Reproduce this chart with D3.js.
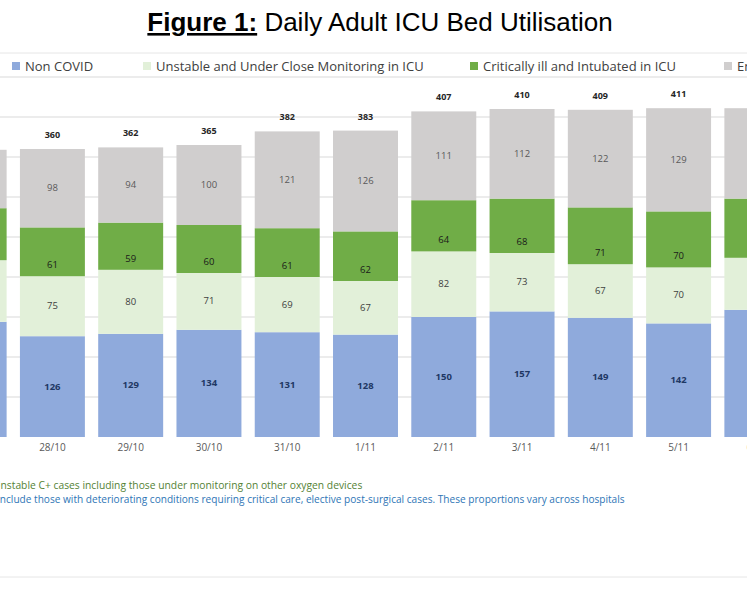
<!DOCTYPE html>
<html>
<head>
<meta charset="utf-8">
<script src="https://cdn.jsdelivr.net/npm/d3@7"></script>
<style>
  body { margin: 0; background: #fff; }
  text { font-family: "Open Sans", sans-serif; }
</style>
</head>
<body>
<svg id="chart" width="747" height="598"></svg>
<script>
// dates (first and last bars are cut off by the frame)
const dates = ['27/10', '28/10', '29/10', '30/10', '31/10', '1/11', '2/11', '3/11', '4/11', '5/11', '6/11'];
const nonCovid   = [144, 126, 129, 134, 131, 128, 150, 157, 149, 142, 159];
const unstable   = [77, 75, 80, 71, 69, 67, 82, 73, 67, 70, 65];
const critical   = [65, 61, 59, 60, 61, 62, 64, 68, 71, 70, 74];
const emptyBeds  = [73, 98, 94, 100, 121, 126, 111, 112, 122, 129, 113];
const seriesNames = ['Non COVID', 'Unstable and Under Close Monitoring in ICU', 'Critically ill and Intubated in ICU', 'Empty Beds'];
const seriesColors = ['#8faadc', '#e2f0d9', '#70ad47', '#d0cece'];
const labelColors = ['#1f3864', '#404040', '#1a1a1a', '#595959'];
const yTicks = [0, 50, 100, 150, 200, 250, 300, 350, 400, 450];

const svg = d3.select('#chart');
const W = 747;

const rows = dates.map((d, i) => ({
  date: d, 0: nonCovid[i], 1: unstable[i], 2: critical[i], 3: emptyBeds[i],
  total: nonCovid[i] + unstable[i] + critical[i] + emptyBeds[i]
}));
const stack = d3.stack().keys([0, 1, 2, 3])(rows);

const xScale = d3.scaleBand().domain(dates).range([-65, 796]).paddingInner(0.17).paddingOuter(0.085);
const yScale = d3.scaleLinear().domain([0, 450]).range([437, 77]);

// title
const title = svg.append('text')
  .attr('x', 380).attr('y', 31)
  .attr('text-anchor', 'middle')
  .style('font-family', '"Liberation Sans", Arial, sans-serif')
  .style('font-size', '26px');
title.append('tspan').attr('font-weight', 'bold').attr('text-decoration', 'underline').text('Figure 1:');
title.append('tspan').text(' Daily Adult ICU Bed Utilisation');

// frame lines
svg.append('line').attr('x1', 0).attr('x2', W).attr('y1', 53).attr('y2', 53).attr('stroke', '#e6e6e6');
svg.append('line').attr('x1', 0).attr('x2', W).attr('y1', 577).attr('y2', 577).attr('stroke', '#e6e6e6');

// legend
const legendX = [12, 143, 470, 724];
const lg = svg.append('g').selectAll('g').data(seriesNames).join('g')
  .attr('transform', (d, i) => `translate(${legendX[i]},67)`);
lg.append('rect').attr('x', 0).attr('y', -5).attr('width', 8).attr('height', 8)
  .attr('fill', (d, i) => seriesColors[i]);
lg.append('text').attr('x', 13).attr('y', 4).style('font-size', '13px').attr('fill', '#404040').text(d => d);

// gridlines
svg.append('g').selectAll('line').data(yTicks.slice(1)).join('line')
  .attr('x1', 0).attr('x2', W)
  .attr('y1', d => yScale(d)).attr('y2', d => yScale(d))
  .attr('stroke', '#d9d9d9');

// bars
const layers = svg.append('g').selectAll('g').data(stack).join('g')
  .attr('fill', (d, i) => seriesColors[i]);
layers.selectAll('rect').data(d => d).join('rect')
  .attr('x', d => xScale(d.data.date))
  .attr('width', xScale.bandwidth())
  .attr('y', d => yScale(d[1]))
  .attr('height', d => yScale(d[0]) - yScale(d[1]));

// segment labels
stack.forEach((layer, i) => {
  svg.append('g').selectAll('text').data(layer).join('text')
    .attr('x', d => xScale(d.data.date) + xScale.bandwidth() / 2)
    .attr('y', d => i === 2 ? yScale(d[0]) - 8 : (yScale(d[0]) + yScale(d[1])) / 2 + 3)
    .attr('text-anchor', 'middle')
    .attr('fill', labelColors[i])
    .style('font-size', '9.5px')
    .style('font-weight', i === 0 ? 'bold' : 'normal')
    .text(d => d.data[i]);
});

// totals
svg.append('g').selectAll('text').data(rows).join('text')
  .attr('x', d => xScale(d.date) + xScale.bandwidth() / 2)
  .attr('y', d => yScale(d.total) - 11)
  .attr('text-anchor', 'middle')
  .attr('fill', '#262626')
  .style('font-size', '9px').style('font-weight', 'bold')
  .text(d => d.total);

// x axis labels
const xAxis = d3.axisBottom(xScale).tickSize(0).tickPadding(7);
svg.append('g').attr('transform', 'translate(0,437)').call(xAxis)
  .call(g => g.select('.domain').remove())
  .call(g => g.selectAll('text').attr('fill', '#595959').style('font-size', '10px')
    .style('font-family', '"Open Sans", sans-serif'));

// footnotes
svg.append('text').attr('x', -7).attr('y', 489).attr('fill', '#548235').style('font-size', '10.3px')
  .text('Unstable C+ cases including those under monitoring on other oxygen devices');
svg.append('text').attr('x', -3).attr('y', 503).attr('fill', '#2e75b6').style('font-size', '10.1px')
  .text('Include those with deteriorating conditions requiring critical care, elective post-surgical cases. These proportions vary across hospitals');
</script>
</body>
</html>
